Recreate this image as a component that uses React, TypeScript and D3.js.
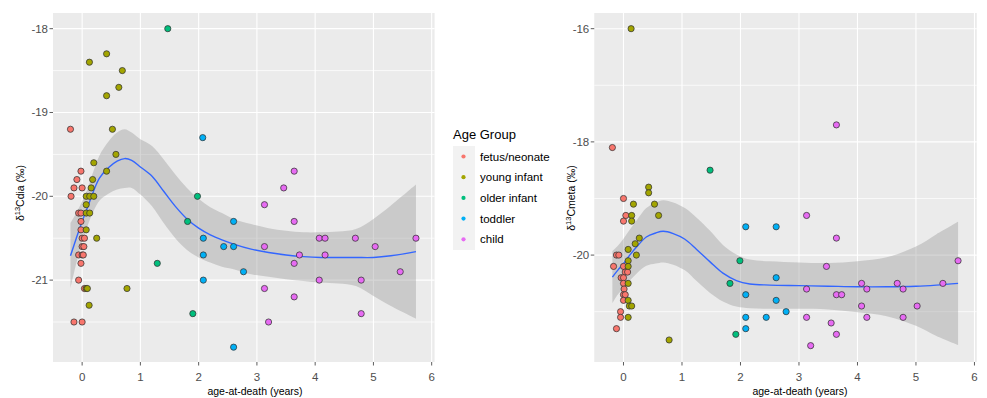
import React from "react";
import * as d3 from "d3";

const groups = ["fetus/neonate", "young infant", "older infant", "toddler", "child"];
const groupColors = ["#F8766D", "#A3A500", "#00BF7D", "#00B0F6", "#E76BF3"];
const xTicks = [0, 1, 2, 3, 4, 5, 6];
const diaTicks = [-21, -20, -19, -18];
const diaMinor = [-21.5, -20.5, -19.5, -18.5];
const metaTicks = [-20, -18, -16];
const metaMinor = [-21, -19, -17];

type P = [number, number];

// δ13Cdia panel
const diaFetus: P[] = [
  [-0.2, -19.2], [-0.02, -19.7], [-0.09, -19.8], [-0.14, -19.9], [0.0, -19.9], [-0.19, -20.0],
  [-0.06, -20.2], [-0.02, -20.2], [-0.02, -20.3], [-0.02, -20.4], [0.0, -20.5], [0.04, -20.5],
  [0.0, -20.6], [0.03, -20.6], [-0.06, -20.7], [0.0, -20.7], [0.02, -20.7], [-0.02, -20.8],
  [-0.06, -21.0], [0.04, -21.1], [-0.14, -21.5], [0.0, -21.5],
];
const diaYoung: P[] = [
  [0.125, -18.4], [0.42, -18.3], [0.69, -18.5], [0.63, -18.7], [0.42, -18.8], [0.52, -19.2],
  [0.58, -19.5], [0.2, -19.6], [0.42, -19.7], [0.18, -19.8], [0.155, -19.9], [0.07, -20.0],
  [0.13, -20.0], [0.2, -20.0], [0.07, -20.1], [0.07, -20.2], [0.13, -20.2], [0.07, -20.4],
  [0.25, -20.5], [0.07, -21.1], [0.09, -21.1], [0.77, -21.1], [0.12, -21.3],
];
const diaOlder: P[] = [[1.47, -18.0], [1.98, -20.0], [1.81, -20.3], [1.29, -20.8], [1.9, -21.4]];
const diaToddler: P[] = [
  [2.07, -19.3], [2.6, -20.3], [2.08, -20.5], [2.43, -20.6], [2.6, -20.6], [2.08, -20.7],
  [2.77, -20.9], [2.08, -21.0], [2.6, -21.8],
];
const diaChild: P[] = [
  [3.64, -19.7], [3.46, -19.9], [3.13, -20.1], [3.64, -20.3], [4.07, -20.5], [4.17, -20.5],
  [4.69, -20.5], [5.73, -20.5], [3.13, -20.6], [5.03, -20.6], [3.73, -20.7], [4.17, -20.7],
  [3.64, -20.8], [5.46, -20.9], [4.07, -21.0], [4.79, -21.0], [3.13, -21.1], [3.64, -21.2],
  [4.79, -21.4], [3.2, -21.5],
];
const diaFitAge = [-0.2, -0.1, 0, 0.1, 0.2, 0.3, 0.45, 0.6, 0.73, 0.85, 1.0, 1.2, 1.4, 1.6, 1.8, 2.0, 2.2, 2.4, 2.6, 2.9, 3.2, 3.5, 3.8, 4.1, 4.4, 4.7, 5.0, 5.3, 5.73];
const diaFitVal = [-20.71, -20.5, -20.3, -20.12, -19.93, -19.78, -19.66, -19.58, -19.55, -19.57, -19.65, -19.76, -19.94, -20.12, -20.27, -20.38, -20.46, -20.52, -20.57, -20.63, -20.67, -20.7, -20.72, -20.73, -20.73, -20.73, -20.73, -20.71, -20.66];
const diaFitSe = [0.39, 0.3, 0.24, 0.22, 0.24, 0.27, 0.31, 0.34, 0.35, 0.33, 0.33, 0.36, 0.38, 0.38, 0.37, 0.35, 0.33, 0.32, 0.3, 0.3, 0.29, 0.29, 0.29, 0.3, 0.31, 0.34, 0.46, 0.6, 0.8];

// δ13Cmeta panel
const metaFetus: P[] = [
  [-0.19, -18.1], [0, -19.0], [0.04, -19.3], [0, -19.4], [-0.12, -20.0], [-0.08, -20.0],
  [-0.17, -20.2], [0, -20.2], [0.03, -20.3], [0.07, -20.3], [-0.04, -20.4], [0, -20.4],
  [0, -20.5], [0.01, -20.6], [0, -20.7], [0.03, -20.7], [0, -20.8], [-0.05, -21.0],
  [-0.05, -21.1], [-0.12, -21.3],
];
const metaYoung: P[] = [
  [0.13, -16.0], [0.43, -18.8], [0.43, -18.9], [0.17, -19.1], [0.53, -19.1], [0.14, -19.3],
  [0.14, -19.4], [0.6, -19.3], [0.27, -19.7], [0.2, -19.8], [0.08, -19.9], [0.22, -20.0],
  [0.08, -20.1], [0.08, -20.2], [0.08, -20.5], [0.08, -20.8], [0.1, -20.9], [0.14, -20.9],
  [0.08, -21.1], [0.78, -21.5],
];
const metaOlder: P[] = [[1.48, -18.5], [1.99, -20.1], [1.82, -20.5], [1.92, -21.4]];
const metaToddler: P[] = [
  [2.09, -19.5], [2.61, -19.5], [2.61, -20.4], [2.09, -20.7], [2.61, -20.8], [2.78, -21.0],
  [2.09, -21.1], [2.44, -21.1], [2.09, -21.3],
];
const metaChild: P[] = [
  [3.64, -17.7], [3.13, -19.3], [3.64, -19.7], [5.72, -20.1], [3.47, -20.2], [4.07, -20.5],
  [4.68, -20.5], [5.46, -20.5], [3.13, -20.6], [4.16, -20.6], [4.78, -20.6], [3.64, -20.7],
  [3.73, -20.7], [4.07, -20.9], [5.02, -20.9], [3.13, -21.1], [4.16, -21.1], [4.78, -21.1],
  [3.55, -21.2], [3.64, -21.4], [3.2, -21.6],
];
const metaFitAge = [-0.19, -0.1, 0, 0.1, 0.23, 0.39, 0.55, 0.68, 0.85, 1.05, 1.25, 1.48, 1.7, 1.93, 2.16, 2.5, 3.0, 3.5, 4.0, 4.5, 5.0, 5.35, 5.72];
const metaFitVal = [-20.39, -20.27, -20.15, -20.01, -19.85, -19.68, -19.61, -19.58, -19.62, -19.72, -19.9, -20.12, -20.32, -20.45, -20.51, -20.53, -20.54, -20.55, -20.56, -20.56, -20.55, -20.53, -20.5];
const metaFitSe = [0.46, 0.43, 0.44, 0.45, 0.47, 0.51, 0.54, 0.55, 0.55, 0.55, 0.56, 0.55, 0.5, 0.46, 0.43, 0.42, 0.41, 0.41, 0.45, 0.52, 0.7, 0.9, 1.09];

const FONT = "'Liberation Sans', Arial, sans-serif";
const TOP = 13;
const BOTTOM = 362;

type PanelProps = {
  xRange: [number, number];
  xDomain: [number, number];
  yDomain: [number, number];
  yTicks: number[];
  yMinor: number[];
  sets: P[][];
  fitAge: number[];
  fitVal: number[];
  fitSe: number[];
  yTitle: string;
  yTitleX: number;
  yTitleY: number;
  xTitleX: number;
};

function Panel(p: PanelProps) {
  const x = d3.scaleLinear().domain(p.xDomain).range(p.xRange);
  const y = d3.scaleLinear().domain(p.yDomain).range([BOTTOM, TOP]);
  const idx = d3.range(p.fitAge.length);
  const area = d3
    .area<number>()
    .x((i) => x(p.fitAge[i]))
    .y0((i) => y(p.fitVal[i] - p.fitSe[i]))
    .y1((i) => y(p.fitVal[i] + p.fitSe[i]))
    .curve(d3.curveCatmullRom);
  const line = d3
    .line<number>()
    .x((i) => x(p.fitAge[i]))
    .y((i) => y(p.fitVal[i]))
    .curve(d3.curveCatmullRom);
  const [l, r] = p.xRange;
  return (
    <g>
      <rect x={l} y={TOP} width={r - l} height={BOTTOM - TOP} fill="#EBEBEB" />
      {p.yMinor.map((v) => (
        <line key={"m" + v} x1={l} x2={r} y1={y(v)} y2={y(v)} stroke="#FFFFFF" strokeWidth={0.7} />
      ))}
      {p.yTicks.map((v) => (
        <line key={"g" + v} x1={l} x2={r} y1={y(v)} y2={y(v)} stroke="#FFFFFF" strokeWidth={1.1} />
      ))}
      {xTicks.map((v) => (
        <line key={"x" + v} x1={x(v)} x2={x(v)} y1={TOP} y2={BOTTOM} stroke="#FFFFFF" strokeWidth={1.1} />
      ))}
      <path d={area(idx) || ""} fill="#999999" fillOpacity={0.4} />
      <path d={line(idx) || ""} fill="none" stroke="#3366FF" strokeWidth={1.4} />
      {p.sets.map((set, gi) =>
        set.map((d, j) => (
          <circle
            key={gi + "-" + j}
            cx={x(d[0])}
            cy={y(d[1])}
            r={3.1}
            fill={groupColors[gi]}
            stroke="#333333"
            strokeWidth={0.75}
          />
        ))
      )}
      {p.yTicks.map((v) => (
        <g key={"t" + v}>
          <line x1={l - 3.5} x2={l} y1={y(v)} y2={y(v)} stroke="#333333" strokeWidth={0.8} />
          <text x={l - 5} y={y(v) + 4} textAnchor="end" fontSize={11.5} fill="#4D4D4D" fontFamily={FONT}>
            {v}
          </text>
        </g>
      ))}
      {xTicks.map((v) => (
        <g key={"xt" + v}>
          <line x1={x(v)} x2={x(v)} y1={BOTTOM} y2={BOTTOM + 3.5} stroke="#333333" strokeWidth={0.8} />
          <text x={x(v)} y={381} textAnchor="middle" fontSize={11.5} fill="#4D4D4D" fontFamily={FONT}>
            {v}
          </text>
        </g>
      ))}
      <text x={p.xTitleX} y={395} textAnchor="middle" fontSize={10.5} fill="#000" fontFamily={FONT}>
        age-at-death (years)
      </text>
      <text
        transform={`translate(${p.yTitleX},${p.yTitleY}) rotate(-90)`}
        textAnchor="middle"
        fontSize={10.5}
        fill="#000"
        fontFamily={FONT}
      >
        δ
        <tspan fontSize={7.5} dy={-4}>13</tspan>
        <tspan dy={4}>{p.yTitle + " (‰)"}</tspan>
      </text>
    </g>
  );
}

function Legend() {
  const keyY = [156.5, 177.2, 197.9, 218.6, 239.3];
  return (
    <g fontFamily={FONT}>
      <text x={453} y={138.5} fontSize={13} fill="#000">Age Group</text>
      <rect x={453} y={146} width={22} height={104} fill="#F2F2F2" />
      {groups.map((g, i) => (
        <g key={g}>
          <circle cx={463.5} cy={keyY[i]} r={2.1} fill={groupColors[i]} />
          <text x={480} y={keyY[i] + 4} fontSize={11.5} fill="#000">{g}</text>
        </g>
      ))}
    </g>
  );
}

export default function App() {
  return (
    <svg
      width={987}
      height={398}
      style={{ position: "absolute", left: 0, top: 0, background: "#FFFFFF" }}
    >
      <rect x={0} y={0} width={987} height={398} fill="#FFFFFF" />
      <Panel
        xRange={[53, 434.6]}
        xDomain={[-0.5, 6.05]}
        yDomain={[-21.977, -17.813]}
        yTicks={diaTicks}
        yMinor={diaMinor}
        sets={[diaFetus, diaYoung, diaOlder, diaToddler, diaChild]}
        fitAge={diaFitAge}
        fitVal={diaFitVal}
        fitSe={diaFitSe}
        yTitle="Cdia"
        yTitleX={24}
        yTitleY={193}
        xTitleX={255}
      />
      <Legend />
      <Panel
        xRange={[594.25, 976.8]}
        xDomain={[-0.5, 6.04]}
        yDomain={[-21.889, -15.723]}
        yTicks={metaTicks}
        yMinor={metaMinor}
        sets={[metaFetus, metaYoung, metaOlder, metaToddler, metaChild]}
        fitAge={metaFitAge}
        fitVal={metaFitVal}
        fitSe={metaFitSe}
        yTitle="Cmeta"
        yTitleX={575}
        yTitleY={198}
        xTitleX={800}
      />
    </svg>
  );
}
